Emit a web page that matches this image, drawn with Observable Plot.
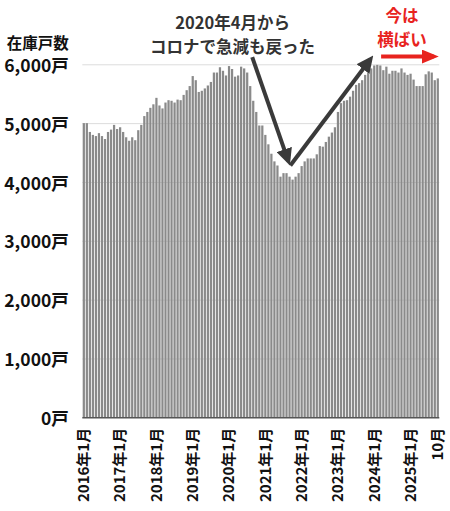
<!DOCTYPE html>
<html><head><meta charset="utf-8">
<script src="https://cdn.jsdelivr.net/npm/d3@7"></script>
<script src="https://cdn.jsdelivr.net/npm/@observablehq/plot@0.6"></script>
<style>body{margin:0;background:#fff}svg{display:block}</style>
</head><body><div id="chart"></div>
<script>
// Monthly stock of unsold units, 2016-01 .. 2025-10
const firstMonth = "2016-01";
const stock = [
  5000,5000,4850,4800,4780,4830,4780,4730,4850,4890,4970,4900, // 2016
  4930,4850,4760,4700,4760,4710,4880,4970,5120,5190,5260,5320, // 2017
  5430,5300,5250,5350,5390,5380,5350,5400,5390,5480,5560,5630, // 2018
  5800,5730,5530,5550,5590,5640,5700,5860,5860,5950,5890,5810, // 2019
  5970,5920,5790,5810,5960,5930,5860,5630,5380,5190,4960,4960, // 2020
  4800,4640,4480,4350,4280,4090,4150,4150,4090,4040,4090,4150, // 2021
  4270,4350,4400,4400,4400,4470,4610,4600,4680,4770,4840,4930, // 2022
  5190,5340,5380,5390,5450,5550,5650,5680,5730,5820,5890,5930, // 2023
  5980,5990,5980,5900,5960,5840,5890,5890,5860,5930,5860,5820, // 2024
  5840,5740,5630,5630,5630,5830,5880,5860,5730,5760            // 2025
];
const yTicks = [0, 1000, 2000, 3000, 4000, 5000, 6000];
const yUnit = "戸";
const xTickMonths = ["2016-01","2017-01","2018-01","2019-01","2020-01","2021-01","2022-01","2023-01","2024-01","2025-01","2025-10"];
const xTickLabels = ["2016年1月","2017年1月","2018年1月","2019年1月","2020年1月","2021年1月","2022年1月","2023年1月","2024年1月","2025年1月","10月"];
const title = "在庫戸数";
const notes = [
  {month: "2020-02", value: 6540, text: "2020年4月から\nコロナで急減も戻った", color: "#333333"},
  {month: "2024-10", value: 6650, text: "今は\n横ばい", color: "#e8231e"}
];
// arrows (month index, stock value)
const darkArrows = [
  {x1: 55.5, y1: 6130, x2: 67.4, y2: 4368},
  {x1: 68.1, y1: 4289, x2: 94.5, y2: 6090}
];
const redArrows = [
  {x1: 98.1, y1: 6141, x2: 115.5, y2: 6141}
];

const monthIndex = (m) => {
  const [y0, m0] = firstMonth.split("-").map(Number);
  const [y, mm] = m.split("-").map(Number);
  return (y - y0) * 12 + (mm - m0);
};
const bars = stock.map((v, i) => ({i, v}));
const xTicks = xTickMonths.map((m, k) => ({i: monthIndex(m), label: xTickLabels[k]}));
const fmt = d3.format(",");
const font = '"Noto Sans CJK JP", "Noto Sans", sans-serif';

const plot = Plot.plot({
  width: 450,
  height: 511,
  marginLeft: 82.3,
  marginRight: 10.7,
  marginTop: 64.3,
  marginBottom: 93.7,
  style: {fontFamily: font, background: "#fff", color: "#111"},
  x: {domain: [-0.5, stock.length - 0.5], axis: null},
  y: {domain: [0, 6000], axis: null},
  marks: [
    Plot.ruleY(yTicks.filter(d => d > 0), {y: d => d, stroke: "#dcdcdc", strokeWidth: 1}),
    Plot.rectY(bars, {x1: d => d.i - 0.37, x2: d => d.i + 0.37, y: "v", fill: "#8a8a8a"}),
    Plot.ruleY([0], {y: d => d, stroke: "#555", strokeWidth: 1.5}),
    Plot.text(yTicks, {y: d => d, text: d => fmt(d) + yUnit, frameAnchor: "left", textAnchor: "end",
      dx: -14, dy: 1.5, fontSize: 17.5, fontWeight: 700, fill: "#111"}),
    Plot.text(xTicks, {x: "i", text: "label", frameAnchor: "bottom", rotate: -90, textAnchor: "end",
      lineAnchor: "middle", dy: 10, fontSize: 15, fontWeight: 700, fill: "#111"}),
    Plot.text([title], {text: d => d, frameAnchor: "top-left", textAnchor: "end", lineAnchor: "middle",
      dx: -14, dy: -21, fontSize: 15.5, fontWeight: 700, fill: "#111"}),
    Plot.text(notes, {x: d => monthIndex(d.month), y: "value", text: "text", fill: "color",
      lineHeight: 1.45, lineAnchor: "middle", fontSize: 16.5, fontWeight: 700}),
    Plot.link(darkArrows, {x1: "x1", y1: "y1", x2: "x2", y2: "y2", stroke: "#3a3a3a", strokeWidth: 4, ariaDescription: "dark-arrows"}),
    Plot.link(redArrows, {x1: "x1", y1: "y1", x2: "x2", y2: "y2", stroke: "#e8231e", strokeWidth: 4, ariaDescription: "red-arrows"})
  ]
});

// filled triangular arrowheads
const svg = d3.select(plot);
const defs = svg.insert("defs", ":first-child");
function addMarker(id, color, len, wid, back) {
  defs.append("marker").attr("id", id)
    .attr("viewBox", `0 0 ${len} ${wid}`)
    .attr("refX", len - back).attr("refY", wid / 2)
    .attr("markerWidth", len).attr("markerHeight", wid)
    .attr("markerUnits", "userSpaceOnUse").attr("orient", "auto")
    .append("path").attr("d", `M0,0L${len},${wid / 2}L0,${wid}Z`).attr("fill", color);
}
addMarker("head-dark", "#3a3a3a", 17, 16, 5);
addMarker("head-red", "#e8231e", 17, 14, 5);
function applyHead(desc, id) {
  svg.selectAll(`[aria-description="${desc}"]`).each(function () {
    const el = d3.select(this);
    const targets = this.tagName.toLowerCase() === "g" ? el.selectAll("path, line") : el;
    targets.attr("marker-end", `url(#${id})`);
  });
}
applyHead("dark-arrows", "head-dark");
applyHead("red-arrows", "head-red");

document.getElementById("chart").appendChild(plot);
</script>
</body></html>
